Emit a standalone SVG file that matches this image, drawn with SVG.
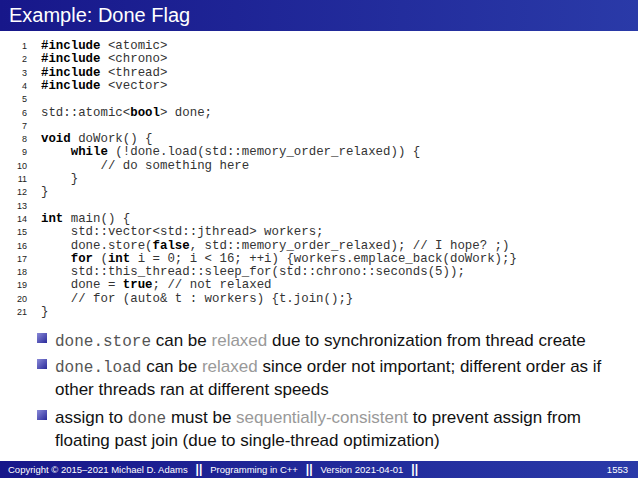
<svg xmlns="http://www.w3.org/2000/svg" width="638" height="478" viewBox="0 0 638 478">
<defs>
<linearGradient id="hd" x1="0" y1="0" x2="1" y2="0"><stop offset="0" stop-color="#17178a"/><stop offset="1" stop-color="#2a3aa8"/></linearGradient>
<linearGradient id="bl" x1="0" y1="0" x2="1" y2="1"><stop offset="0" stop-color="#8a8ad8"/><stop offset="1" stop-color="#2a2a9a"/></linearGradient>
</defs>
<style>
.n{font-family:"Liberation Sans",sans-serif;font-size:9px;fill:#222;text-anchor:end}
.c{font-family:"Liberation Mono",monospace;font-size:12.4px;fill:#333;white-space:pre}
.k{font-weight:bold;fill:#000}
.b{font-family:"Liberation Sans",sans-serif;font-size:17px;fill:#111}
.m{font-family:"Liberation Mono",monospace;fill:#555;font-size:16px}
.g{fill:#999}
.f{font-family:"Liberation Sans",sans-serif;font-size:9.5px;fill:#fff;white-space:pre}
</style>
<rect width="638" height="478" fill="#fff"/>
<g id="header"><rect x="0" y="0" width="638" height="31" fill="url(#hd)"/>
<text x="9" y="22" font-family="Liberation Sans,sans-serif" font-size="20" fill="#fff">Example: Done Flag</text></g>
<g id="code">
<text class="n" x="27" y="49">1</text><text class="c" x="41" y="49"><tspan class="k">#include</tspan> &lt;atomic&gt;</text>
<text class="n" x="27" y="62.3">2</text><text class="c" x="41" y="62.3"><tspan class="k">#include</tspan> &lt;chrono&gt;</text>
<text class="n" x="27" y="75.6">3</text><text class="c" x="41" y="75.6"><tspan class="k">#include</tspan> &lt;thread&gt;</text>
<text class="n" x="27" y="88.9">4</text><text class="c" x="41" y="88.9"><tspan class="k">#include</tspan> &lt;vector&gt;</text>
<text class="n" x="27" y="102.2">5</text>
<text class="n" x="27" y="115.5">6</text><text class="c" x="41" y="115.5">std::atomic&lt;<tspan class="k">bool</tspan>&gt; done;</text>
<text class="n" x="27" y="128.8">7</text>
<text class="n" x="27" y="142.1">8</text><text class="c" x="41" y="142.1"><tspan class="k">void</tspan> doWork() {</text>
<text class="n" x="27" y="155.4">9</text><text class="c" x="41" y="155.4">    <tspan class="k">while</tspan> (!done.load(std::memory_order_relaxed)) {</text>
<text class="n" x="27" y="168.7">10</text><text class="c" x="41" y="168.7">        // do something here</text>
<text class="n" x="27" y="182">11</text><text class="c" x="41" y="182">    }</text>
<text class="n" x="27" y="195.3">12</text><text class="c" x="41" y="195.3">}</text>
<text class="n" x="27" y="208.6">13</text>
<text class="n" x="27" y="221.9">14</text><text class="c" x="41" y="221.9"><tspan class="k">int</tspan> main() {</text>
<text class="n" x="27" y="235.2">15</text><text class="c" x="41" y="235.2">    std::vector&lt;std::jthread&gt; workers;</text>
<text class="n" x="27" y="248.5">16</text><text class="c" x="41" y="248.5">    done.store(<tspan class="k">false</tspan>, std::memory_order_relaxed); // I hope? ;)</text>
<text class="n" x="27" y="261.8">17</text><text class="c" x="41" y="261.8">    <tspan class="k">for</tspan> (<tspan class="k">int</tspan> i = 0; i &lt; 16; ++i) {workers.emplace_back(doWork);}</text>
<text class="n" x="27" y="275.1">18</text><text class="c" x="41" y="275.1">    std::this_thread::sleep_for(std::chrono::seconds(5));</text>
<text class="n" x="27" y="288.4">19</text><text class="c" x="41" y="288.4">    done = <tspan class="k">true</tspan>; // not relaxed</text>
<text class="n" x="27" y="301.7">20</text><text class="c" x="41" y="301.7">    // for (auto&amp; t : workers) {t.join();}</text>
<text class="n" x="27" y="315">21</text><text class="c" x="41" y="315">}</text>
</g>
<g id="bullets">
<rect x="37" y="333" width="10" height="10" fill="url(#bl)"/>
<text class="b" x="55" y="346"><tspan class="m">done.store</tspan> can be <tspan class="g">relaxed</tspan> due to synchronization from thread create</text>
<rect x="37" y="359" width="10" height="10" fill="url(#bl)"/>
<text class="b" x="55" y="372"><tspan class="m">done.load</tspan> can be <tspan class="g">relaxed</tspan> since order not important; different order as if</text>
<text class="b" x="55" y="395">other threads ran at different speeds</text>
<rect x="37" y="410" width="10" height="10" fill="url(#bl)"/>
<text class="b" x="55" y="423">assign to <tspan class="m">done</tspan> must be <tspan class="g">sequentially-consistent</tspan> to prevent assign from</text>
<text class="b" x="55" y="446">floating past join (due to single-thread optimization)</text>
</g>
<g id="footer"><rect x="0" y="461" width="638" height="17" fill="url(#hd)"/>
<text class="f" x="8" y="473">Copyright © 2015–2021 Michael D. Adams   <tspan font-weight="bold" font-size="12">||</tspan>   Programming in C++   <tspan font-weight="bold" font-size="12">||</tspan>   Version 2021-04-01   <tspan font-weight="bold" font-size="12">||</tspan></text>
<text class="f" x="628" y="473" text-anchor="end">1553</text></g>
</svg>
